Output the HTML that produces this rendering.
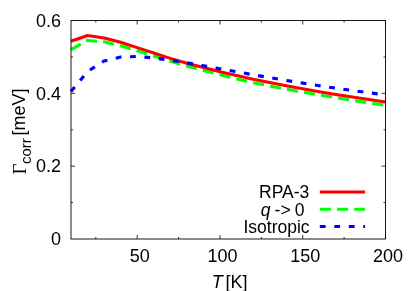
<!DOCTYPE html>
<html><head><meta charset="utf-8"><style>
html,body{margin:0;padding:0;background:#fff;}
svg{display:block;will-change:transform;font-family:"Liberation Sans",sans-serif;font-size:18px;fill:#000;}
</style></head><body>
<svg width="415" height="291" viewBox="0 0 415 291">
<rect width="415" height="291" fill="#fff"/>
<g fill="none" stroke-linejoin="round">
<path d="M71.00,49.63 L87.55,40.42 L104.11,41.80 L120.66,45.81 L137.21,50.80 L153.76,56.01 L170.32,61.18 L186.87,66.02 L203.42,70.50 L219.97,74.69 L236.53,78.91 L253.08,82.66 L269.63,85.98 L286.18,89.15 L302.74,92.13 L319.29,94.90 L335.84,97.70 L352.39,100.33 L368.95,102.80 L385.50,105.28" stroke="#00ff00" stroke-width="3.1" stroke-dasharray="11.15,6.13"/>
<path d="M71.00,41.26 L87.55,35.50 L104.11,37.91 L120.66,42.35 L137.21,47.63 L153.76,53.02 L170.32,58.37 L186.87,63.22 L203.42,67.62 L219.97,71.81 L236.53,75.53 L253.08,79.17 L269.63,82.59 L286.18,85.72 L302.74,88.85 L319.29,91.80 L335.84,94.43 L352.39,97.01 L368.95,99.52 L385.50,102.00" stroke="#ff0000" stroke-width="3.1"/>
<path d="M71.00,91.51 L87.55,71.48 L104.11,60.92 L120.66,57.03 L137.21,56.48 L153.76,57.94 L170.32,60.19 L186.87,62.82 L203.42,65.73 L219.97,68.75 L236.53,71.74 L253.08,74.76 L269.63,77.64 L286.18,80.41 L302.74,83.10 L319.29,85.69 L335.84,88.20 L352.39,90.53 L368.95,92.75 L385.50,94.90" stroke="#0000ff" stroke-width="3.1" stroke-dasharray="5.8,8.6"/>
</g>
<g fill="none" stroke="#000" stroke-width="0.9">
<rect x="71.0" y="20.5" width="314.5" height="218.5"/>
</g>
<g fill="none" stroke="#000" stroke-width="0.8">
<path d="M137.21,239.0 v-4 M137.21,20.5 v4"/><path d="M219.97,239.0 v-4 M219.97,20.5 v4"/><path d="M302.74,239.0 v-4 M302.74,20.5 v4"/><path d="M385.50,239.0 v-4 M385.50,20.5 v4"/><path d="M95.83,239.0 v-2 M95.83,20.5 v2"/><path d="M178.59,239.0 v-2 M178.59,20.5 v2"/><path d="M261.36,239.0 v-2 M261.36,20.5 v2"/><path d="M344.12,239.0 v-2 M344.12,20.5 v2"/><path d="M71.0,166.17 h4 M385.5,166.17 h-4"/><path d="M71.0,93.33 h4 M385.5,93.33 h-4"/><path d="M71.0,202.58 h2 M385.5,202.58 h-2"/><path d="M71.0,129.75 h2 M385.5,129.75 h-2"/><path d="M71.0,56.92 h2 M385.5,56.92 h-2"/>
</g>
<text x="139.81" y="262.3" text-anchor="middle">50</text><text x="222.57" y="262.3" text-anchor="middle">100</text><text x="305.34" y="262.3" text-anchor="middle">150</text><text x="388.10" y="262.3" text-anchor="middle">200</text>
<text x="61" y="245.30" text-anchor="end">0</text><text x="61" y="172.47" text-anchor="end">0.2</text><text x="61" y="99.63" text-anchor="end">0.4</text><text x="61" y="26.80" text-anchor="end">0.6</text>
<text x="211.7" y="288" font-style="italic">T</text>
<text x="225.5" y="288">[K]</text>
<text transform="translate(25.9,174.5) rotate(-90)" font-family="Liberation Serif" font-size="19px">Γ</text>
<text transform="translate(30.8,164.1) rotate(-90)" font-size="15px">corr</text>
<text transform="translate(25.2,135.5) rotate(-90)">[meV]</text>
<g font-size="17.5px" text-anchor="end">
<text x="309.3" y="198">RPA-3</text>
<text x="304.5" y="215.5" word-spacing="-0.7px"><tspan font-style="italic">q</tspan> -&gt; 0</text>
<text x="309.6" y="233">Isotropic</text>
</g>
<g fill="none">
<path d="M319.8,192 H365.1" stroke="#ff0000" stroke-width="3.1"/>
<path d="M319.8,209.3 H365.1" stroke="#00ff00" stroke-width="3.1" stroke-dasharray="11.1,6.1"/>
<path d="M319.8,226.5 H365.1" stroke="#0000ff" stroke-width="3.1" stroke-dasharray="5.8,8.7"/>
</g>
</svg>
</body></html>
